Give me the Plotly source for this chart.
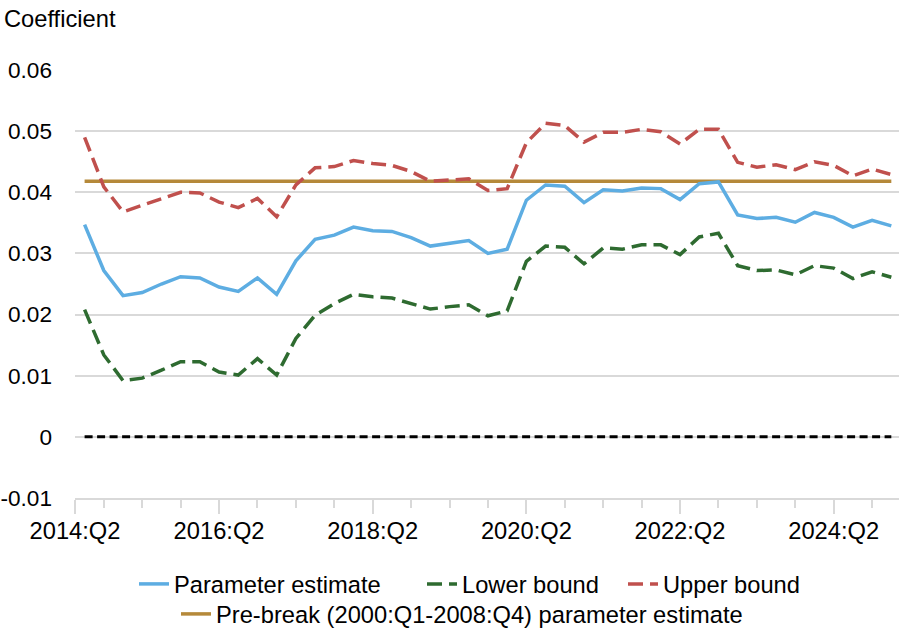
import plotly.graph_objects as go

# kvartali od 2014:Q3 naprej (43 tock), x je zaporedni indeks
n_points = 43
x_idx = list(range(n_points))

parameter_estimate = [
    0.0347, 0.0272, 0.0231, 0.0236, 0.0250, 0.0262, 0.0260, 0.0245, 0.0238, 0.0260,
    0.0233, 0.0288, 0.0323, 0.0330, 0.0343, 0.0337, 0.0336, 0.0326, 0.0312, 0.0316,
    0.0321, 0.0300, 0.0307, 0.0387, 0.0412, 0.0410, 0.0383, 0.0404, 0.0402, 0.0407,
    0.0406, 0.0388, 0.0414, 0.0417, 0.0363, 0.0357, 0.0359, 0.0351, 0.0367, 0.0359,
    0.0343, 0.0354, 0.0345,
]
lower_bound = [
    0.0208, 0.0134, 0.0092, 0.0096, 0.0109, 0.0123, 0.0123, 0.0106, 0.0101, 0.0128,
    0.0101, 0.0161, 0.0199, 0.0218, 0.0233, 0.0229, 0.0227, 0.0218, 0.0209, 0.0213,
    0.0216, 0.0198, 0.0206, 0.0287, 0.0312, 0.0310, 0.0283, 0.0309, 0.0307, 0.0314,
    0.0314, 0.0298, 0.0327, 0.0333, 0.0280, 0.0272, 0.0273, 0.0265, 0.0280, 0.0276,
    0.0259, 0.0270, 0.0261,
]
upper_bound = [
    0.0490, 0.0409, 0.0368, 0.0379, 0.0390, 0.0400, 0.0399, 0.0384, 0.0375, 0.0390,
    0.0360, 0.0412, 0.0440, 0.0442, 0.0452, 0.0447, 0.0444, 0.0434, 0.0418, 0.0420,
    0.0422, 0.0403, 0.0406, 0.0481, 0.0513, 0.0509, 0.0482, 0.0498, 0.0498, 0.0503,
    0.0499, 0.0479, 0.0503, 0.0503, 0.0449, 0.0441, 0.0445, 0.0437, 0.0450, 0.0444,
    0.0427, 0.0438, 0.0429,
]
pre_break = [0.0418] * n_points
zero_line = [0.0] * n_points

# oznake na x osi
x_tick_vals = [-0.5, 7, 15, 23, 31, 39]
x_tick_text = ["2014:Q2", "2016:Q2", "2018:Q2", "2020:Q2", "2022:Q2", "2024:Q2"]
x_minor_vals = [1, 3, 5, 9, 11, 13, 17, 19, 21, 25, 27, 29, 33, 35, 37, 41]

y_tick_vals = [-0.01, 0, 0.01, 0.02, 0.03, 0.04, 0.05, 0.06]
y_tick_text = ["-0.01", "0", "0.01", "0.02", "0.03", "0.04", "0.05", "0.06"]

FONT = "Arial, Liberation Sans, Helvetica, sans-serif"
FS = 23.7
GRID = "#D9D9D9"
W, H = 920, 628


def leg(x_px, y_px):
    # vsaka postavka legende ima svojo legendo, da je razmik kot na originalu
    return dict(
        orientation="h", x=x_px / W, xanchor="left", xref="container",
        y=1 - y_px / H, yanchor="middle", yref="container",
        font=dict(size=FS), bgcolor="rgba(0,0,0,0)"
    )


fig = go.Figure()

# nicla (crna crtkana, brez legende)
fig.add_trace(go.Scatter(
    x=x_idx, y=zero_line, mode="lines", showlegend=False, hoverinfo="skip",
    line=dict(color="black", width=3, dash="8px,4.5px")
))

fig.add_trace(go.Scatter(
    x=x_idx, y=pre_break, mode="lines", name="Pre-break (2000:Q1-2008:Q4) parameter estimate",
    legend="legend4", line=dict(color="#B5893A", width=3.5)
))
fig.add_trace(go.Scatter(
    x=x_idx, y=parameter_estimate, mode="lines", name="Parameter estimate",
    legend="legend", line=dict(color="#5DADE2", width=3.5)
))
fig.add_trace(go.Scatter(
    x=x_idx, y=lower_bound, mode="lines", name="Lower bound",
    legend="legend2", line=dict(color="#2E6B30", width=3.5, dash="15px,7px")
))
fig.add_trace(go.Scatter(
    x=x_idx, y=upper_bound, mode="lines", name="Upper bound",
    legend="legend3", line=dict(color="#C0504D", width=3.5, dash="15px,7px")
))

fig.update_layout(
    width=W,
    height=H,
    template="simple_white",
    plot_bgcolor="white",
    paper_bgcolor="white",
    font=dict(family=FONT, size=FS, color="black"),
    margin=dict(l=75, r=21, t=70, b=130, autoexpand=False),
    legend=leg(134, 584),
    legend2=leg(422, 584),
    legend3=leg(623, 584),
    legend4=leg(176, 614),
    annotations=[dict(
        text="Coefficient", xref="paper", yref="paper",
        x=-0.088, xanchor="left", y=1.12, yanchor="middle",
        showarrow=False, font=dict(size=FS)
    )],
)

fig.update_xaxes(
    range=[-0.5, 42.4],
    tickmode="array", tickvals=x_tick_vals, ticktext=x_tick_text,
    ticks="outside", ticklen=14, tickwidth=1.5, tickcolor=GRID,
    ticklabelstandoff=-3,
    showline=True, linecolor=GRID, linewidth=1.5,
    showgrid=False, zeroline=False,
    minor=dict(tickvals=x_minor_vals, ticks="outside", ticklen=8, tickwidth=1.5, tickcolor=GRID),
)
fig.update_yaxes(
    range=[-0.01, 0.06],
    tickmode="array", tickvals=y_tick_vals, ticktext=y_tick_text,
    tickfont=dict(size=22.6),
    ticks="", showline=False, zeroline=False, ticklabelstandoff=22,
    showgrid=True, gridcolor=GRID, gridwidth=1.5,
)

# brskalnik ima privzet rob 8px, ki bi sliko zamaknil
fig.write_html("out.html", config=dict(displayModeBar=False),
               post_script="document.body.style.margin='0';")
